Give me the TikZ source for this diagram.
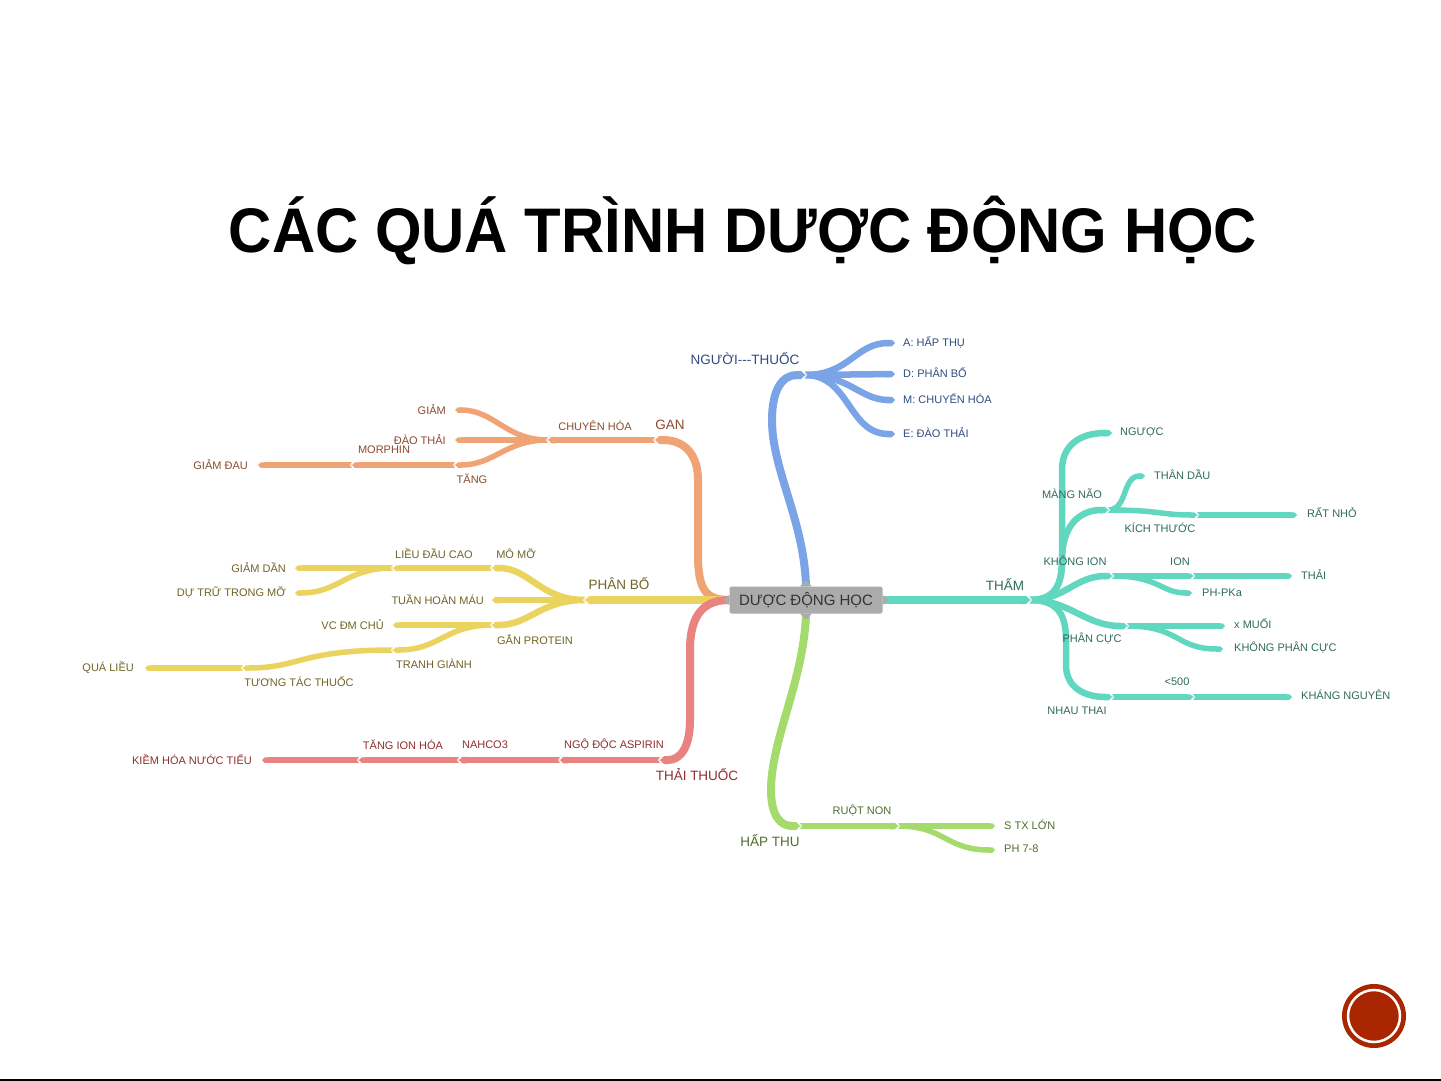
\documentclass[tikz,border=0pt]{standalone}
\usepackage{fontspec}
\setmainfont{Liberation Sans}
\usetikzlibrary{backgrounds,arrows.meta}

\definecolor{orgline}{HTML}{F0A374}
\definecolor{orgtext}{HTML}{8A4A2C}
\definecolor{ylwline}{HTML}{EBD35F}
\definecolor{ylwtext}{HTML}{6F6424}
\definecolor{redline}{HTML}{E8837F}
\definecolor{redtext}{HTML}{8E2E2E}
\definecolor{bluline}{HTML}{7BA4E6}
\definecolor{blutext}{HTML}{2F4C7E}
\definecolor{tealline}{HTML}{62D7BF}
\definecolor{tealtext}{HTML}{2F6A5C}
\definecolor{grnline}{HTML}{A5DA6C}
\definecolor{grntext}{HTML}{4F6D2E}
\definecolor{hubgray}{HTML}{ABABAB}
\definecolor{badgered}{HTML}{A92600}

\begin{document}
\begin{tikzpicture}[x=1pt,y=-1pt]
    % `trunk' is the thick first level branch, `twig' the next one,
    % `leafline' the thin outer ones. `chev' marks a joint.
    \tikzstyle{trunk} = [line width=8pt,line cap=butt,-{Triangle Cap}]
    \tikzstyle{twig} = [line width=6.5pt,line cap=butt,-{Triangle Cap}]
    \tikzstyle{leafline} = [line width=5.5pt,line cap=butt,-{Triangle Cap}]
    \tikzstyle{leaf} = [font=\fontsize{11}{12}\selectfont,inner sep=1pt]
    \tikzstyle{big} = [font=\fontsize{13.5}{15}\selectfont,inner sep=1pt]
    \tikzstyle{hub} = [fill=hubgray,rounded corners=2pt,minimum width=153pt,minimum height=27pt,
                       font=\fontsize{15}{17}\selectfont,text=black!80]
    \tikzset{chev/.pic={\draw[white,line width=0.9pt] (1.5,-4) -- (-1.5,0) -- (1.5,4);}}
    %
    \useasboundingbox (0,0) rectangle (1441,1081);
    \node[font=\fontsize{63}{70}\selectfont\bfseries,anchor=base] (title) at (743,252)
      {\scalebox{0.95}[1]{CÁC QUÁ TRÌNH DƯỢC ĐỘNG HỌC}};
    %
    \node[hub] (hub) at (806,600) {DƯỢC ĐỘNG HỌC};
    \fill[hubgray] ([yshift=-5pt]hub.west) -- ([xshift=-6pt]hub.west) -- ([yshift=5pt]hub.west) -- cycle;
    \fill[hubgray] ([yshift=-5pt]hub.east) -- ([xshift=6pt]hub.east) -- ([yshift=5pt]hub.east) -- cycle;
    \fill[hubgray] ([xshift=-6pt]hub.north) -- ([yshift=6pt]hub.north) -- ([xshift=6pt]hub.north) -- cycle;
    \fill[hubgray] ([xshift=-6pt]hub.south) -- ([yshift=-6pt]hub.south) -- ([xshift=6pt]hub.south) -- cycle;

    % NGUOI---THUOC (blue)
    \coordinate (nt) at (805,375);
    \coordinate (nt1) at (895,343);
    \coordinate (nt2) at (895,374);
    \coordinate (nt3) at (895,400);
    \coordinate (nt4) at (895,434);
    \node[big,blutext] (ntL) at (745,359) {NGƯỜI-{}-{}-THUỐC};
    \node[leaf,blutext,anchor=west] (nt1L) at (902,342) {A: HẤP THỤ};
    \node[leaf,blutext,anchor=west] (nt2L) at (902,373) {D: PHÂN BỐ};
    \node[leaf,blutext,anchor=west] (nt3L) at (902,399) {M: CHUYỂN HÓA};
    \node[leaf,blutext,anchor=west] (nt4L) at (902,433) {E: ĐÀO THẢI};

    % GAN (orange)
    \coordinate (gan) at (655,440);
    \coordinate (ch) at (548,440);
    \coordinate (ch1) at (455,410);
    \coordinate (ch2) at (455,440);
    \coordinate (ch3) at (455,465);
    \coordinate (mor) at (352,465);
    \coordinate (gd) at (258,465);
    \node[big,orgtext] (ganL) at (670,425) {GAN};
    \node[leaf,orgtext] (chL) at (595,426) {CHUYÊN HÓA};
    \node[leaf,orgtext,anchor=east] (ch1L) at (447,410) {GIẢM};
    \node[leaf,orgtext,anchor=east] (ch2L) at (447,440) {ĐÀO THẢI};
    \node[leaf,orgtext] (ch3L) at (472,479) {TĂNG};
    \node[leaf,orgtext] (morL) at (384,450) {MORPHIN};
    \node[leaf,orgtext,anchor=east] (gdL) at (249,465) {GIẢM ĐAU};

    % PHAN BO (yellow)
    \coordinate (pb) at (585,600);
    \coordinate (mm) at (492,568);
    \coordinate (thm) at (492,600);
    \coordinate (gp) at (492,625);
    \coordinate (ldc) at (393,568);
    \coordinate (gdn) at (295,568);
    \coordinate (dtm) at (295,593);
    \coordinate (vc) at (393,625);
    \coordinate (tg) at (393,650);
    \coordinate (ttt) at (243,668);
    \coordinate (ql) at (145,668);
    \node[big,ylwtext] (pbL) at (619,584) {PHÂN BỐ};
    \node[leaf,ylwtext] (mmL) at (516,554) {MÔ MỠ};
    \node[leaf,ylwtext] (ldcL) at (434,554) {LIỀU ĐẦU CAO};
    \node[leaf,ylwtext,anchor=east] (gdnL) at (287,568) {GIẢM DẦN};
    \node[leaf,ylwtext,anchor=east] (dtmL) at (287,593) {DỰ TRỮ TRONG MỠ};
    \node[leaf,ylwtext,anchor=east] (thmL) at (485,600) {TUẦN HOÀN MÁU};
    \node[leaf,ylwtext] (gpL) at (535,640) {GẮN PROTEIN};
    \node[leaf,ylwtext,anchor=east] (vcL) at (385,625) {VC ĐM CHỦ};
    \node[leaf,ylwtext] (tgL) at (434,664) {TRANH GIÀNH};
    \node[leaf,ylwtext] (tttL) at (299,682) {TƯƠNG TÁC THUỐC};
    \node[leaf,ylwtext,anchor=east] (qlL) at (135,668) {QUÁ LIỀU};

    % THAI THUOC (red)
    \coordinate (tt) at (660,760);
    \coordinate (nda) at (560,760);
    \coordinate (nah) at (459,760);
    \coordinate (tih) at (359,760);
    \coordinate (khn) at (262,760);
    \node[big,redtext] (ttL) at (697,775) {THẢI THUỐC};
    \node[leaf,redtext] (ndaL) at (614,745) {NGỘ ĐỘC ASPIRIN};
    \node[leaf,redtext] (nahL) at (485,745) {NAHCO3};
    \node[leaf,redtext] (tihL) at (403,745) {TĂNG ION HÓA};
    \node[leaf,redtext,anchor=east] (khnL) at (253,760) {KIỀM HÓA NƯỚC TIỂU};

    % HAP THU (green)
    \coordinate (ht) at (800,826);
    \coordinate (rn) at (898,826);
    \coordinate (stx) at (995,826);
    \coordinate (ph) at (995,850);
    \node[big,grntext] (htL) at (770,841) {HẤP THU};
    \node[leaf,grntext] (rnL) at (862,811) {RUỘT NON};
    \node[leaf,grntext,anchor=west] (stxL) at (1003,825) {S TX LỚN};
    \node[leaf,grntext,anchor=west] (phL) at (1003,849) {PH 7-8};

    % THAM (teal)
    \coordinate (th) at (1030,600);
    \coordinate (ng) at (1112,433);
    \coordinate (mn) at (1108,510);
    \coordinate (tdau) at (1145,476);
    \coordinate (kt) at (1197,515);
    \coordinate (rnho) at (1297,515);
    \coordinate (ki) at (1112,576);
    \coordinate (ion) at (1193,576);
    \coordinate (thai) at (1292,576);
    \coordinate (pka) at (1192,593);
    \coordinate (pc) at (1127,626);
    \coordinate (muoi) at (1225,626);
    \coordinate (kpc) at (1223,649);
    \coordinate (nthai) at (1112,697);
    \coordinate (l500) at (1193,697);
    \coordinate (kn) at (1292,697);
    \node[big,tealtext] (thL) at (1005,584) {THẤM};
    \node[leaf,tealtext,anchor=west] (ngL) at (1119,432) {NGƯỢC};
    \node[leaf,tealtext] (mnL) at (1072,494) {MÀNG NÃO};
    \node[leaf,tealtext,anchor=west] (tdauL) at (1153,475) {THÂN DẦU};
    \node[leaf,tealtext] (ktL) at (1160,528) {KÍCH THƯỚC};
    \node[leaf,tealtext,anchor=west] (rnhoL) at (1306,513) {RẤT NHỎ};
    \node[leaf,tealtext] (kiL) at (1075,561) {KHÔNG ION};
    \node[leaf,tealtext] (ionL) at (1180,562) {ION};
    \node[leaf,tealtext,anchor=west] (thaiL) at (1300,575) {THẢI};
    \node[leaf,tealtext,anchor=west] (pkaL) at (1201,593) {PH-PKa};
    \node[leaf,tealtext] (pcL) at (1092,639) {PHÂN CỰC};
    \node[leaf,tealtext,anchor=west] (muoiL) at (1233,624) {x MUỐI};
    \node[leaf,tealtext,anchor=west] (kpcL) at (1233,648) {KHÔNG PHÂN CỰC};
    \node[leaf,tealtext] (l500L) at (1177,682) {<500};
    \node[leaf,tealtext,anchor=west] (knL) at (1300,695) {KHÁNG NGUYÊN};
    \node[leaf,tealtext] (nthaiL) at (1077,711) {NHAU THAI};

    \begin{pgfonlayer}{background}
        % Draw branches.
        \draw[trunk,bluline] (hub.north) .. controls (804,520) and (772,470) .. (772,420)
              .. controls (772,390) and (782,375) .. (nt);
        \draw[twig,bluline] (nt) .. controls (850,375) and (855,343) .. (nt1);
        \draw[twig,bluline] (nt) -- (nt2);
        \draw[twig,bluline] (nt) .. controls (850,375) and (860,400) .. (nt3);
        \draw[twig,bluline] (nt) .. controls (850,375) and (848,434) .. (nt4);

        \draw[trunk,orgline] (hub.west) .. controls (706,600) and (698,590) .. (698,555)
              -- (698,480) .. controls (698,455) and (685,440) .. (gan);
        \draw[twig,orgline] (gan) -- (ch);
        \draw[leafline,orgline] (ch) .. controls (505,440) and (495,410) .. (ch1);
        \draw[leafline,orgline] (ch) -- (ch2);
        \draw[leafline,orgline] (ch) .. controls (505,440) and (495,465) .. (ch3);
        \draw[leafline,orgline] (ch3) -- (mor);
        \draw[leafline,orgline] (mor) -- (gd);

        \draw[trunk,ylwline] (hub.west) -- (pb);
        \draw[twig,ylwline] (pb) .. controls (540,600) and (530,568) .. (mm);
        \draw[twig,ylwline] (pb) -- (thm);
        \draw[twig,ylwline] (pb) .. controls (540,600) and (530,625) .. (gp);
        \draw[leafline,ylwline] (mm) -- (ldc);
        \draw[leafline,ylwline] (ldc) -- (gdn);
        \draw[leafline,ylwline] (ldc) .. controls (345,568) and (340,593) .. (dtm);
        \draw[leafline,ylwline] (gp) -- (vc);
        \draw[leafline,ylwline] (gp) .. controls (445,625) and (440,650) .. (tg);
        \draw[leafline,ylwline] (tg) .. controls (300,650) and (300,668) .. (ttt);
        \draw[leafline,ylwline] (ttt) -- (ql);

        \draw[trunk,redline] (hub.west) .. controls (706,600) and (690,612) .. (690,650)
              -- (690,720) .. controls (690,748) and (680,760) .. (tt);
        \draw[twig,redline] (tt) -- (nda);
        \draw[twig,redline] (nda) -- (nah);
        \draw[leafline,redline] (nah) -- (tih);
        \draw[leafline,redline] (tih) -- (khn);

        \draw[trunk,grnline] (hub.south) .. controls (804,680) and (771,740) .. (771,790)
              .. controls (771,815) and (780,826) .. (ht);
        \draw[twig,grnline] (ht) -- (rn);
        \draw[leafline,grnline] (rn) -- (stx);
        \draw[leafline,grnline] (rn) .. controls (945,826) and (945,850) .. (ph);

        \draw[trunk,tealline] (hub.east) -- (th);
        \draw[twig,tealline] (th) .. controls (1055,600) and (1062,585) .. (1062,560)
              -- (1062,470) .. controls (1062,445) and (1080,433) .. (ng);
        \draw[twig,tealline] (th) .. controls (1055,600) and (1062,585) .. (1062,560)
              .. controls (1062,525) and (1080,510) .. (mn);
        \draw[twig,tealline] (th) .. controls (1065,600) and (1075,576) .. (ki);
        \draw[twig,tealline] (th) .. controls (1070,600) and (1085,626) .. (pc);
        \draw[twig,tealline] (th) .. controls (1058,600) and (1066,615) .. (1066,640)
              -- (1066,665) .. controls (1066,688) and (1085,697) .. (nthai);
        \draw[leafline,tealline] (mn) .. controls (1160,510) and (1160,515) .. (kt);
        \draw[leafline,tealline] (mn) .. controls (1128,510) and (1122,476) .. (tdau);
        \draw[leafline,tealline] (kt) -- (rnho);
        \draw[leafline,tealline] (ki) -- (ion);
        \draw[leafline,tealline] (ion) -- (thai);
        \draw[leafline,tealline] (ki) .. controls (1160,576) and (1160,593) .. (pka);
        \draw[leafline,tealline] (pc) -- (muoi);
        \draw[leafline,tealline] (pc) .. controls (1180,626) and (1175,649) .. (kpc);
        \draw[leafline,tealline] (nthai) -- (l500);
        \draw[leafline,tealline] (l500) -- (kn);

        % Joint marks.
        \foreach \j in {gan,ch,ch3,mor,pb,mm,gp,ldc,tg,ttt,tt,nda,nah,tih}
            \pic at (\j) {chev};
        \foreach \j in {nt,ht,rn,th,mn,kt,ki,ion,pc,nthai,l500}
            \pic[rotate=180] at (\j) {chev};
    \end{pgfonlayer}

    % corner badge and bottom rule
    \fill[badgered] (1374,1016) circle (32);
    \draw[white,line width=2.5pt] (1374,1016) circle (26);
    \draw[black,line width=2pt] (0,1080) -- (1441,1080);
\end{tikzpicture}
\end{document}
